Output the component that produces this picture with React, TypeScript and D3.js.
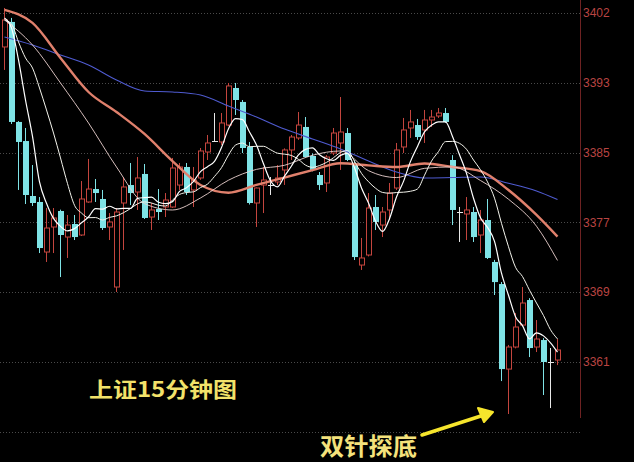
import React from 'react';
import * as d3 from 'd3';

// 15-minute candles: open, high, low, close
const opens = [
  3397.61, 3400.55, 3388.80, 3386.56, 3380.10, 3379.40, 3373.52, 3376.46, 3378.34, 3375.28,
  3376.81, 3375.52, 3379.40, 3380.92, 3379.75, 3376.46, 3369.41, 3379.28, 3381.39, 3380.57,
  3382.69, 3377.63, 3378.57, 3378.81, 3378.81, 3381.39, 3383.51, 3380.81, 3382.22, 3385.27,
  3386.56, 3386.45, 3388.44, 3392.79, 3391.15, 3385.86, 3379.28, 3381.39, 3381.39, 3381.75,
  3383.16, 3385.51, 3386.92, 3388.21, 3384.80, 3382.57, 3381.63, 3385.15, 3386.33, 3387.50,
  3383.74, 3371.99, 3373.17, 3378.81, 3376.69, 3378.46, 3381.04, 3385.86, 3388.09, 3388.44,
  3387.86, 3389.03, 3389.50, 3389.85, 3384.33, 3378.22, 3377.99, 3378.22, 3375.52, 3377.28,
  3372.35, 3369.76, 3359.77, 3362.36, 3364.94, 3367.88, 3362.36, 3363.18, 3360.60, 3360.83,
];
const highs = [
  3402.19, 3401.02, 3388.90, 3388.09, 3383.74, 3379.98, 3378.69, 3378.69, 3378.50, 3377.87,
  3377.87, 3381.86, 3384.45, 3382.10, 3380.81, 3378.10, 3378.69, 3382.33, 3383.98, 3384.68,
  3383.86, 3379.28, 3380.92, 3380.45, 3384.57, 3383.98, 3383.98, 3383.51, 3385.74, 3387.27,
  3389.85, 3389.85, 3393.38, 3393.38, 3391.38, 3386.45, 3381.10, 3383.51, 3382.33, 3383.74,
  3385.70, 3387.27, 3389.97, 3389.38, 3385.10, 3382.92, 3384.90, 3388.09, 3391.73, 3388.09,
  3384.30, 3375.17, 3380.45, 3380.22, 3378.81, 3381.63, 3386.33, 3389.27, 3390.21, 3389.15,
  3390.21, 3390.21, 3390.44, 3390.44, 3384.90, 3378.81, 3379.98, 3378.81, 3378.46, 3379.75,
  3372.60, 3370.00, 3362.60, 3366.35, 3369.41, 3368.10, 3365.53, 3363.40, 3362.24, 3363.30,
];
const lows = [
  3394.91, 3388.56, 3380.81, 3379.16, 3378.93, 3373.40, 3372.35, 3373.40, 3370.58, 3372.82,
  3374.93, 3375.40, 3379.30, 3379.40, 3376.11, 3374.93, 3368.82, 3373.76, 3379.04, 3378.46,
  3377.40, 3376.11, 3377.28, 3377.63, 3378.70, 3380.81, 3380.22, 3378.81, 3382.00, 3384.33,
  3386.45, 3386.09, 3388.30, 3389.62, 3385.15, 3379.10, 3376.46, 3378.10, 3380.22, 3381.39,
  3381.40, 3384.33, 3386.70, 3384.60, 3383.00, 3380.81, 3380.57, 3384.90, 3383.16, 3384.20,
  3372.58, 3371.41, 3373.00, 3376.11, 3375.28, 3377.28, 3380.80, 3385.15, 3386.92, 3386.70,
  3386.33, 3388.21, 3389.27, 3388.70, 3376.69, 3374.70, 3374.93, 3374.70, 3373.40, 3372.70,
  3368.47, 3358.36, 3354.49, 3362.20, 3364.80, 3361.18, 3361.77, 3356.72, 3355.19, 3360.24,
];
const closes = [
  3400.78, 3388.80, 3386.45, 3380.22, 3379.28, 3373.99, 3376.34, 3377.52, 3375.52, 3376.69,
  3375.28, 3379.75, 3380.92, 3380.45, 3376.34, 3377.05, 3378.22, 3381.16, 3380.45, 3382.22,
  3377.52, 3378.46, 3378.22, 3379.63, 3383.39, 3383.51, 3380.57, 3381.98, 3385.39, 3386.33,
  3386.56, 3388.68, 3393.03, 3391.38, 3385.74, 3379.28, 3381.04, 3381.98, 3381.39, 3382.22,
  3385.51, 3387.03, 3388.44, 3384.68, 3383.16, 3381.39, 3384.68, 3387.50, 3387.62, 3384.33,
  3372.93, 3372.82, 3378.69, 3377.05, 3378.22, 3380.45, 3385.51, 3387.86, 3388.80, 3387.03,
  3389.03, 3389.38, 3389.85, 3388.80, 3378.46, 3378.22, 3378.46, 3375.28, 3377.28, 3372.82,
  3369.99, 3359.77, 3362.36, 3364.71, 3367.53, 3362.24, 3363.30, 3360.60, 3360.60, 3362.01,
];

// moving averages
const ma5 = [
  3401.02, 3399.84, 3396.08, 3391.38, 3387.10, 3381.75, 3379.25, 3377.47, 3376.53, 3376.01,
  3376.27, 3376.95, 3377.63, 3378.62, 3378.55, 3378.90, 3378.60, 3378.64, 3378.64, 3379.82,
  3379.91, 3379.96, 3379.37, 3379.21, 3379.44, 3380.64, 3381.06, 3381.82, 3382.97, 3383.55,
  3384.17, 3385.79, 3388.00, 3389.19, 3389.08, 3387.62, 3386.09, 3383.88, 3381.89, 3381.18,
  3382.43, 3383.63, 3384.92, 3385.58, 3385.76, 3384.94, 3384.47, 3384.28, 3384.87, 3385.11,
  3383.41, 3381.04, 3379.28, 3377.16, 3375.94, 3377.44, 3379.98, 3381.82, 3384.17, 3385.93,
  3387.64, 3388.42, 3388.82, 3388.82, 3387.10, 3384.94, 3382.76, 3379.84, 3377.54, 3376.41,
  3374.77, 3371.03, 3368.44, 3365.93, 3364.87, 3363.32, 3364.03, 3363.67, 3362.85, 3361.75,
];
const ma10 = [
  3400.78, 3400.31, 3398.20, 3396.32, 3395.14, 3392.79, 3390.21, 3387.50, 3384.57, 3381.56,
  3379.01, 3378.10, 3377.55, 3377.57, 3377.28, 3377.59, 3377.77, 3378.14, 3378.63, 3379.18,
  3379.41, 3379.28, 3379.01, 3378.93, 3379.63, 3380.28, 3380.51, 3380.59, 3381.09, 3381.50,
  3382.40, 3383.43, 3384.91, 3386.08, 3386.32, 3385.89, 3385.94, 3385.94, 3385.54, 3385.13,
  3385.02, 3384.86, 3384.40, 3383.73, 3383.47, 3383.68, 3384.05, 3384.60, 3385.22, 3385.43,
  3384.18, 3382.76, 3381.78, 3381.02, 3380.52, 3380.43, 3380.51, 3380.55, 3380.66, 3380.93,
  3382.54, 3384.20, 3385.32, 3386.49, 3386.52, 3386.29, 3385.59, 3384.33, 3383.18, 3381.76,
  3379.85, 3376.89, 3374.14, 3371.73, 3370.64, 3369.04, 3367.53, 3366.06, 3364.39, 3363.31,
];
// slower averages, read every fourth bar
const slowIdx = [0, 4, 8, 12, 16, 20, 24, 28, 32, 36, 40, 44, 48, 52, 56, 60, 64, 68, 72, 76, 79];
const ma20 = [
  3400.78, 3397.84, 3393.38, 3388.68, 3383.51, 3379.21, 3378.46, 3379.87, 3381.96, 3383.23,
  3383.71, 3384.89, 3385.39, 3383.08, 3382.27, 3383.35, 3383.52, 3381.92, 3379.72, 3376.55, 3372.53,
];
const ma30 = [
  3401.96, 3400.43, 3396.32, 3392.32, 3389.97, 3387.39, 3384.21, 3381.39, 3380.49, 3381.40,
  3382.27, 3383.14, 3383.95, 3383.70, 3383.50, 3383.92, 3383.51, 3383.03, 3380.80, 3377.88, 3375.33,
];
const ma60 = [
  3398.78, 3397.84, 3396.67, 3395.49, 3393.73, 3392.44, 3392.32, 3391.97, 3390.67, 3389.38,
  3387.97, 3386.80, 3385.62, 3384.21, 3382.92, 3382.22, 3382.27, 3382.33, 3381.59, 3380.69, 3379.68,
];

const tickValues = [3401.6, 3393.4, 3385.2, 3377.0, 3368.8, 3360.6];
const gridValues = [...tickValues, 3352.4];

const W = 634;
const H = 462;
const RED = '#c4453e';
const CYAN = '#7fe3e6';

export default function App() {
  const x = d3.scaleBand<number>()
    .domain(d3.range(opens.length))
    .range([0.5, 560.5])
    .paddingInner(0.28)
    .paddingOuter(0.14);
  const y = d3.scaleLinear().domain([3360.6, 3401.6]).range([362, 13]);
  const cx = (i: number) => Math.round((x(i) || 0) + x.bandwidth() / 2);

  const fullLine = d3.line<number>()
    .x((_, i) => cx(i) + 0.5)
    .y(d => y(d))
    .curve(d3.curveMonotoneX);
  const slowLine = d3.line<number>()
    .x((_, k) => cx(slowIdx[k]) + 0.5)
    .y(d => y(d))
    .curve(d3.curveMonotoneX);

  return (
    <svg width={W} height={H} style={{ position: 'absolute', left: 0, top: 0, background: '#000' }}>
      <rect width={W} height={H} fill="#000" />
      {gridValues.map(v => (
        <line key={v} x1={0} x2={580} y1={Math.round(y(v)) + 0.5} y2={Math.round(y(v)) + 0.5}
          stroke="#4a4a4a" strokeDasharray="1,2" />
      ))}
      <line x1={580.5} x2={580.5} y1={0} y2={418} stroke="#6e2222" />
      {tickValues.map(v => (
        <text key={v} x={583} y={y(v)} dy="0.35em" fontSize={12}
          fontFamily="Liberation Sans, Arial, sans-serif" fill="#b94442">
          {d3.format('.0f')(v)}
        </text>
      ))}

      {opens.map((o, i) => {
        const c = closes[i];
        const c0 = cx(i);
        const top = y(Math.max(o, c));
        const bot = y(Math.min(o, c));
        const up = c > o;
        const flat = c === o;
        const col = flat ? '#e8e8e8' : up ? RED : CYAN;
        return (
          <g key={i}>
            <line x1={c0 + 0.5} x2={c0 + 0.5} y1={y(highs[i])} y2={y(lows[i])} stroke={col} />
            {flat ? (
              <line x1={c0 - 2} x2={c0 + 4} y1={Math.round(top) + 0.5} y2={Math.round(top) + 0.5} stroke={col} />
            ) : up ? (
              <rect x={c0 - 1.5} y={top} width={5} height={Math.max(1, bot - top)} fill="#000" stroke={col} />
            ) : (
              <rect x={c0 - 2} y={top} width={6} height={Math.max(1, bot - top)} fill={col} />
            )}
          </g>
        );
      })}

      <path d={slowLine(ma60) || ''} fill="none" stroke="#4f5bd0" strokeWidth={1.1} />
      <path d={slowLine(ma30) || ''} fill="none" stroke="#e0806c" strokeWidth={2.4} />
      <path d={slowLine(ma20) || ''} fill="none" stroke="#ecd2d0" strokeWidth={0.9} />
      <path d={fullLine(ma10) || ''} fill="none" stroke="#f4f4ec" strokeWidth={1} />
      <path d={fullLine(ma5) || ''} fill="none" stroke="#ffffff" strokeWidth={1.2} />

      <text x={89} y={397} fontSize={21} fontWeight="bold" textLength={148} lengthAdjust="spacingAndGlyphs"
        fontFamily="Noto Sans CJK SC, sans-serif" fill="#f2e26a">上证15分钟图</text>
      <text x={320} y={455} fontSize={24} fontWeight="bold" textLength={97} lengthAdjust="spacingAndGlyphs"
        fontFamily="Noto Sans CJK SC, sans-serif" fill="#f4e27c">双针探底</text>
      <line x1={422} y1={435} x2={484} y2={415} stroke="#f6e52c" strokeWidth={3.5} strokeLinecap="round" />
      <path d="M493,412 L478,408 L484,422 Z" fill="#f6e52c" stroke="#f6e52c" strokeWidth={2} strokeLinejoin="round" />
    </svg>
  );
}
